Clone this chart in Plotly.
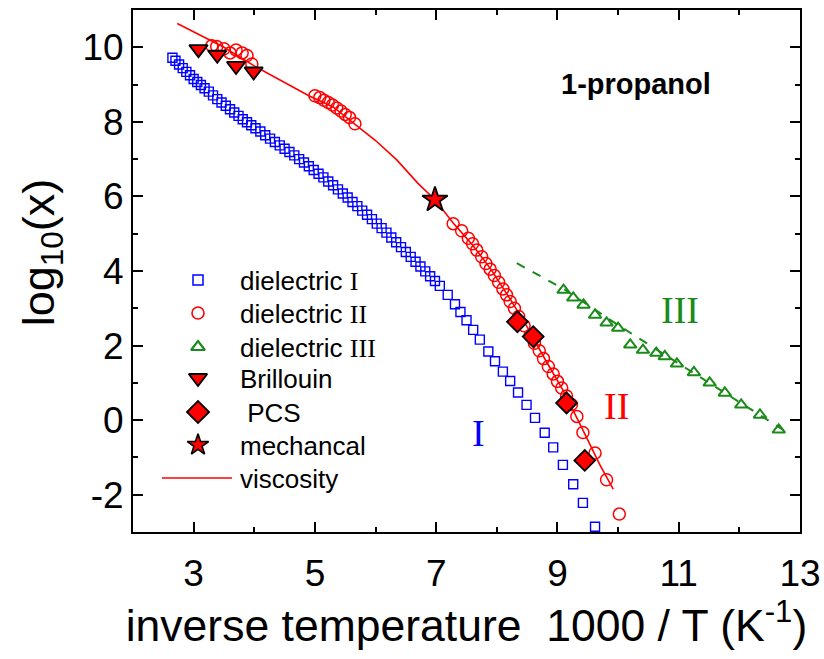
import plotly.graph_objects as go

# ---------------- data ----------------
d1_x = [2.65, 2.70, 2.76, 2.82, 2.88, 2.94, 3.00, 3.06, 3.12, 3.18, 3.25, 3.32, 3.39, 3.46,
        3.53, 3.60, 3.67, 3.74, 3.81, 3.88, 3.95, 4.02, 4.10, 4.18, 4.26, 4.34, 4.42, 4.50,
        4.58, 4.66, 4.74, 4.82, 4.90, 4.98, 5.06, 5.14, 5.22, 5.30, 5.38, 5.46, 5.54, 5.62,
        5.70, 5.78, 5.86, 5.94, 6.02, 6.10, 6.18, 6.26, 6.34, 6.42, 6.50, 6.58, 6.66, 6.74,
        6.82, 6.90, 6.98, 7.06, 7.19, 7.31, 7.40, 7.50, 7.61, 7.72, 7.86, 7.97, 8.10, 8.22,
        8.35, 8.49, 8.63, 8.79, 8.93, 9.09, 9.26, 9.42, 9.62]
d1_y = [9.72, 9.64, 9.54, 9.44, 9.34, 9.25, 9.15, 9.07, 8.99, 8.90, 8.81, 8.71, 8.61, 8.52,
        8.43, 8.34, 8.25, 8.16, 8.07, 7.99, 7.91, 7.83, 7.74, 7.64, 7.55, 7.46, 7.37, 7.28,
        7.19, 7.10, 7.00, 6.91, 6.81, 6.71, 6.61, 6.51, 6.40, 6.30, 6.19, 6.08, 5.97, 5.85,
        5.74, 5.62, 5.51, 5.39, 5.27, 5.15, 5.03, 4.90, 4.77, 4.64, 4.51, 4.38, 4.25, 4.12,
        3.99, 3.86, 3.73, 3.60, 3.36, 3.11, 2.90, 2.68, 2.42, 2.16, 1.84, 1.58, 1.30, 1.05,
        0.74, 0.41, 0.06, -0.34, -0.73, -1.20, -1.72, -2.22, -2.86]

d2_x = [3.30, 3.38, 3.50, 3.60, 3.70, 3.80, 3.88, 3.96,
        5.00, 5.08, 5.15, 5.22, 5.29, 5.36, 5.43, 5.50, 5.57, 5.66,
        7.28, 7.42, 7.53, 7.60, 7.67, 7.75, 7.82, 7.89, 7.96, 8.03, 8.10, 8.16, 8.22,
        8.29, 8.36, 8.45, 8.55, 8.62, 8.70, 8.77, 8.85, 8.93, 9.00, 9.07, 9.15, 9.23,
        9.32, 9.42, 9.62, 9.81, 10.02]
d2_y = [10.04, 10.02, 9.96, 9.85, 9.93, 9.85, 9.78, 9.55,
        8.70, 8.65, 8.58, 8.52, 8.45, 8.37, 8.29, 8.20, 8.12, 7.95,
        5.27, 5.08, 4.88, 4.73, 4.56, 4.38, 4.20, 4.05, 3.88, 3.70, 3.52, 3.36, 3.18,
        3.00, 2.78, 2.53, 2.27, 2.06, 1.86, 1.65, 1.44, 1.24, 1.04, 0.86, 0.65, 0.42,
        0.10, -0.33, -0.88, -1.60, -2.52]

d3_x = [9.10, 9.26, 9.43, 9.62, 9.81, 10.00, 10.20, 10.41, 10.63, 10.77, 10.97, 11.25,
        11.51, 11.76, 12.03, 12.34, 12.65]
d3_y = [3.49, 3.28, 3.09, 2.82, 2.61, 2.47, 2.02, 1.88, 1.80, 1.71, 1.51, 1.28,
        1.00, 0.73, 0.41, 0.14, -0.26]

d3fit_x = [8.33, 9.10, 10.00, 11.00, 12.00, 12.77]
d3fit_y = [4.21, 3.52, 2.55, 1.52, 0.50, -0.31]

bri_x = [3.08, 3.39, 3.70, 3.99]
bri_y = [9.95, 9.80, 9.50, 9.35]

pcs_x = [8.34, 8.60, 9.15, 9.45]
pcs_y = [2.64, 2.24, 0.46, -1.08]

mech_x = [6.98]
mech_y = [5.91]

visc_x = [2.73, 3.00, 3.50, 4.00, 4.50, 4.90, 5.30, 5.70, 6.00, 6.35, 6.70, 6.98,
          7.30, 7.60, 7.90, 8.20, 8.50, 8.80, 9.10, 9.40, 9.70, 9.92]
visc_y = [10.64, 10.42, 10.00, 9.50, 9.05, 8.70, 8.40, 7.88, 7.50, 6.98, 6.35, 5.91,
          5.25, 4.70, 4.05, 3.30, 2.50, 1.62, 0.78, -0.20, -1.20, -1.85]

x_ticks = [3, 5, 7, 9, 11, 13]
y_ticks = [-2, 0, 2, 4, 6, 8, 10]

legend_names = ["dielectric I", "dielectric II", "dielectric III", "Brillouin",
                "&nbsp;PCS", "mechancal", "viscosity"]

labels = {
    "I": (7.70, -0.35, "#0000FF"),
    "II": (9.97, 0.37, "#FF0000"),
    "III": (11.02, 2.96, "#1A8A1A"),
}

SANS = "Liberation Sans, Arial, sans-serif"
SERIF = "Liberation Serif, Times New Roman, serif"
RED = "#FF0000"
BLUE = "#0000FF"
GREEN = "#1A8A1A"

# ---------------- styles ----------------
styles = [
    dict(symbol="square-open", size=9, color=BLUE, line=dict(width=1.4, color=BLUE)),
    dict(symbol="circle-open", size=12, color=RED, line=dict(width=1.5, color=RED)),
    dict(symbol="triangle-up-open", size=11, color=GREEN, line=dict(width=2, color=GREEN)),
    dict(symbol="triangle-down", size=16, color=RED, line=dict(width=1.8, color="black")),
    dict(symbol="diamond", size=16, color=RED, line=dict(width=1.8, color="black")),
    dict(symbol="star", size=19, color=RED, line=dict(width=1.8, color="black")),
]
legend_styles = [
    dict(symbol="square-open", size=10, color=BLUE, line=dict(width=1.5, color=BLUE)),
    dict(symbol="circle-open", size=12, color=RED, line=dict(width=1.6, color=RED)),
    dict(symbol="triangle-up-open", size=12, color=GREEN, line=dict(width=2.2, color=GREEN)),
    dict(symbol="triangle-down", size=16, color=RED, line=dict(width=1.8, color="black")),
    dict(symbol="diamond", size=17, color=RED, line=dict(width=1.8, color="black")),
    dict(symbol="star", size=16, color=RED, line=dict(width=1.6, color="black")),
]


def legend_text(t):
    # roman numerals are set in a serif face, as in the reference
    for rn in ["III", "II", "I"]:
        suffix = " " + rn
        if t.endswith(suffix):
            return t[:-len(rn)] + '<span style="font-family:Liberation Serif">' + rn + '</span>'
    return t


fig = go.Figure()

fig.add_trace(go.Scatter(x=visc_x, y=visc_y, mode="lines", name="viscosity",
                         line=dict(color=RED, width=1.6)))
fig.add_trace(go.Scatter(x=d3fit_x, y=d3fit_y, mode="lines",
                         line=dict(color=GREEN, width=2, dash="dash")))
for (xs, ys), st, nm in zip([(d1_x, d1_y), (d2_x, d2_y), (d3_x, d3_y),
                             (bri_x, bri_y), (pcs_x, pcs_y), (mech_x, mech_y)],
                            styles, legend_names):
    fig.add_trace(go.Scatter(x=xs, y=ys, mode="markers", name=nm, marker=st))

# ---------------- hand-built legend (pixel-scaled overlay axes) ----------------
LEG_ROWS = [280, 313, 347, 378, 412, 445, 478]   # row centres, px from top
LEG_SYM_X = 198
LEG_TXT_X = 238
LEG_LINE = (162, 232)

for i, st in enumerate(legend_styles):
    fig.add_trace(go.Scatter(x=[LEG_SYM_X], y=[LEG_ROWS[i]], mode="markers", marker=st,
                             xaxis="x2", yaxis="y2", hoverinfo="skip"))
fig.add_trace(go.Scatter(x=list(LEG_LINE), y=[LEG_ROWS[6], LEG_ROWS[6]], mode="lines",
                         line=dict(color=RED, width=1.6), xaxis="x2", yaxis="y2",
                         hoverinfo="skip"))
for i, nm in enumerate(legend_names):
    fig.add_annotation(xref="x2", yref="y2", x=LEG_TXT_X, y=LEG_ROWS[i] + 1,
                       xanchor="left", yanchor="middle", showarrow=False,
                       text=legend_text(nm), font=dict(family=SANS, size=26, color="black"))

for txt, (lx, ly, col) in labels.items():
    fig.add_annotation(x=lx, y=ly, text=txt, showarrow=False,
                       font=dict(family=SERIF, size=38, color=col))

fig.add_annotation(x=10.30, y=9.02, text="<b>1-propanol</b>", showarrow=False,
                   font=dict(family=SANS, size=29, color="black"))

# y-axis title as a rotated annotation (placed slightly above plot centre as in the reference)
fig.add_annotation(xref="paper", yref="paper", x=-0.137, y=0.535,
                   xanchor="center", yanchor="middle", textangle=-90, showarrow=False,
                   text="log<sub>10</sub>(x)",
                   font=dict(family=SANS, size=45, color="black"))

axis_common = dict(showline=True, linewidth=2, linecolor="black", mirror="ticks",
                   ticks="inside", ticklen=10, tickwidth=2, tickcolor="black",
                   showgrid=False, zeroline=False, automargin=False,
                   tickfont=dict(family=SANS, size=37, color="black"))

fig.update_layout(
    xaxis=dict(range=[2, 13], tickmode="array", tickvals=x_ticks,
               ticktext=[str(v) for v in x_ticks],
               minor=dict(ticks="inside", ticklen=5, tickwidth=2, tickcolor="black", dtick=1, tick0=2),
               ticklabelstandoff=8,
               title=dict(text="inverse temperature&nbsp;&nbsp;1000 / T (K<sup>-1</sup>)",
                          font=dict(family=SANS, size=44.5, color="black"), standoff=14),
               **axis_common),
    yaxis=dict(range=[-3, 11], tickmode="array", tickvals=y_ticks,
               ticktext=[str(v) for v in y_ticks],
               minor=dict(ticks="inside", ticklen=5, tickwidth=2, tickcolor="black", dtick=1, tick0=1),
               ticklabelstandoff=0,
               **axis_common),
    xaxis2=dict(range=[133, 800], overlaying="x", visible=False, fixedrange=True),
    yaxis2=dict(range=[532, 10], overlaying="y", visible=False, fixedrange=True),
    width=824, height=659,
    margin=dict(l=133, r=24, t=10, b=127),
    paper_bgcolor="white", plot_bgcolor="white",
    showlegend=False,
)

fig.write_html("out.html", config={"displayModeBar": False},
               post_script="document.body.style.margin='0';document.body.style.overflow='hidden';")
